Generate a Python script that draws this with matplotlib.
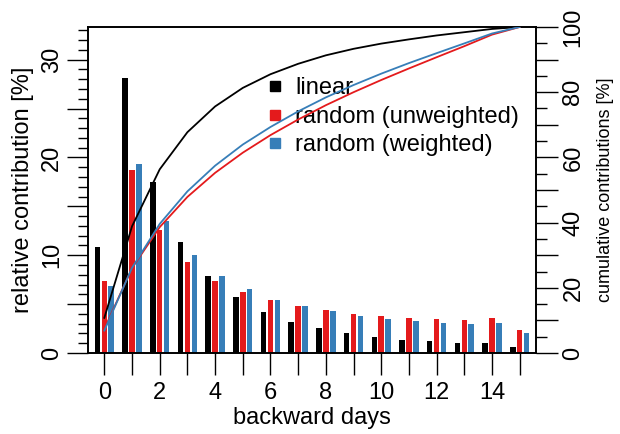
import numpy as np
import matplotlib
matplotlib.use('Agg')
import matplotlib.pyplot as plt
from matplotlib.lines import Line2D
from matplotlib.ticker import MultipleLocator

plt.rcParams['font.family'] = ['Liberation Sans', 'DejaVu Sans']

# relative contribution per backward day [%]
days = np.arange(16)
linear = [10.8, 28.1, 17.5, 11.4, 7.9, 5.7, 4.2, 3.2, 2.6, 2.0, 1.6, 1.3, 1.2, 1.0, 1.0, 0.6]
rand_unw = [7.4, 18.7, 12.6, 9.3, 7.4, 6.2, 5.4, 4.8, 4.4, 4.0, 3.75, 3.55, 3.45, 3.4, 3.55, 2.35]
rand_w = [6.9, 19.3, 13.5, 10.0, 7.9, 6.5, 5.4, 4.8, 4.3, 3.8, 3.5, 3.25, 3.05, 3.0, 3.05, 2.0]

labels = ['linear', 'random (unweighted)', 'random (weighted)']
colors = ['black', '#E41A1C', '#377EB8']
series = [linear, rand_unw, rand_w]
offsets = [-0.25, 0.0, 0.25]

FS = 17

fig = plt.figure(figsize=(6.2, 4.34), dpi=100)
ax = fig.add_axes([88 / 620, 1 - 353 / 434, (536 - 88) / 620, (353 - 27) / 434])
ax2 = ax.twinx()

for vals, col, off in zip(series, colors, offsets):
    ax.bar(days + off, vals, width=0.2, color=col, edgecolor='none', zorder=2)

# cumulative contributions on the right axis
for vals, col in zip(series, colors):
    cum = np.cumsum(vals)
    cum = cum / cum[-1] * 100
    ax2.plot(days, cum, color=col, lw=1.3, zorder=3)

ax.set_xlim(-0.59, 15.59)
ax.set_ylim(0, 100 / 3)
ax2.set_ylim(0, 100)

# x axis
ax.set_xticks(days)
ax.set_xticklabels([str(d) if d % 2 == 0 else '' for d in days])
ax.tick_params(axis='x', direction='out', length=16, width=1, pad=5, labelsize=FS)
ax.set_xlabel('backward days', fontsize=FS, labelpad=2)

# left axis
ax.yaxis.set_minor_locator(MultipleLocator(1))
ax.set_yticks([0, 5, 10, 15, 20, 25, 30])
ax.set_yticklabels(['0', '', '10', '', '20', '', '30'], rotation=90, va='center')
ax.tick_params(axis='y', which='major', direction='out', length=15, width=1, pad=3, labelsize=FS)
ax.tick_params(axis='y', which='minor', direction='out', length=7, width=1)
ax.set_ylabel('relative contribution [%]', fontsize=FS, labelpad=5)

# right axis
ax2.set_yticks(np.arange(0, 101, 10))
ax2.set_yticklabels([str(v) if v % 20 == 0 else '' for v in range(0, 101, 10)],
                    rotation=90, va='center')
ax2.yaxis.set_minor_locator(MultipleLocator(5))
ax2.tick_params(axis='y', which='major', direction='out', length=16, width=1, pad=3, labelsize=FS)
ax2.tick_params(axis='y', which='minor', direction='out', length=8, width=1)
ax2.set_ylabel('cumulative contributions [%]', fontsize=13, labelpad=9)

for a in (ax, ax2):
    for s in a.spines.values():
        s.set_linewidth(1.2)

handles = [Line2D([], [], marker='s', ls='none', color=c, markersize=7.5) for c in colors]
ax.legend(handles, labels, loc='upper left', bbox_to_anchor=(0.378, 0.875),
          frameon=False, fontsize=FS, handlelength=0.7, handletextpad=0.5,
          labelspacing=0.28, borderaxespad=0)

fig.savefig('out.png', dpi=100)
